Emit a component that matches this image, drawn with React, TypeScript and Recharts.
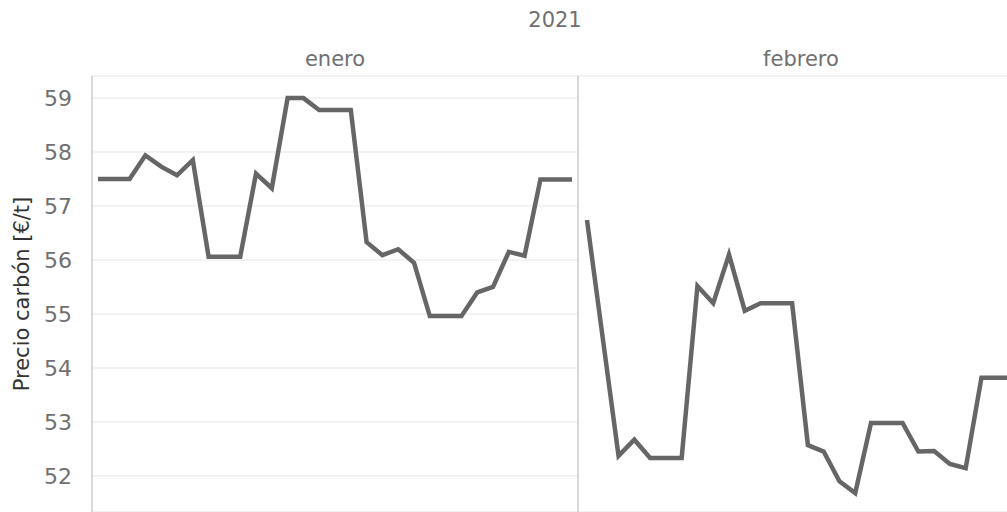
import { LineChart, Line, XAxis, YAxis, CartesianGrid } from 'recharts'

const diasEnero = [1, 2, 3, 4, 5, 6, 7, 8, 9, 10, 11, 12, 13, 14, 15, 16, 17, 18, 19, 20, 21, 22, 23, 24, 25, 26, 27, 28, 29, 30, 31]
const precioEnero = [57.5, 57.5, 57.5, 57.94, 57.73, 57.57, 57.85, 56.06, 56.06, 56.06, 57.6, 57.33, 59.0, 59.0, 58.78, 58.78, 58.78, 56.33, 56.09, 56.2, 55.95, 54.96, 54.96, 54.96, 55.4, 55.5, 56.15, 56.08, 57.49, 57.49, 57.49]

const diasFebrero = [1, 2, 3, 4, 5, 6, 7, 8, 9, 10, 11, 12, 13, 14, 15, 16, 17, 18, 19, 20, 21, 22, 23, 24, 25, 26, 27, 28]
const precioFebrero = [56.74, 54.55, 52.37, 52.67, 52.33, 52.33, 52.33, 55.52, 55.2, 56.1, 55.06, 55.2, 55.2, 55.2, 52.57, 52.45, 51.9, 51.68, 52.98, 52.98, 52.98, 52.45, 52.46, 52.22, 52.14, 53.82, 53.82, 53.82]

const yTicks = [52, 53, 54, 55, 56, 57, 58, 59]
const Y_DOMAIN: [number, number] = [51.33, 59.41]

const FONT = '"DejaVu Sans", "Noto Sans", sans-serif'
const BORDER = '#cccccc'
const GRID = '#efefef'
const LINE = '#666666'

const eneroData = diasEnero.map((d, i) => ({ dia: d, precio: precioEnero[i] }))
const febreroData = diasFebrero.map((d, i) => ({ dia: d, precio: precioFebrero[i] }))

function Header({ text, cx, cy }: { text: string; cx: number; cy: number }) {
  return (
    <div
      style={{
        position: 'absolute',
        left: cx - 100,
        top: cy - 15,
        width: 200,
        height: 30,
        lineHeight: '30px',
        textAlign: 'center',
        fontSize: 21,
        color: '#707070',
      }}
    >
      {text}
    </div>
  )
}

export default function App() {
  return (
    <div
      style={{
        position: 'absolute',
        left: 0,
        top: 0,
        width: 1007,
        height: 512,
        overflow: 'hidden',
        background: '#fff',
        fontFamily: FONT,
      }}
    >
      <Header text="2021" cx={555} cy={20} />
      <Header text="enero" cx={335} cy={59} />
      <Header text="febrero" cx={801} cy={59} />

      {/* enero pane with the y axis */}
      <div style={{ position: 'absolute', left: 0, top: 0 }}>
        <LineChart width={578} height={512} data={eneroData} margin={{ top: 76, right: 0, bottom: 0, left: 0 }}>
          <CartesianGrid vertical={false} stroke={GRID} strokeWidth={1.5} />
          <XAxis
            dataKey="dia"
            type="number"
            domain={[0.62, 31.38]}
            orientation="top"
            height={0}
            tick={false}
            tickLine={false}
            axisLine={{ stroke: BORDER, strokeWidth: 1.5 }}
            allowDataOverflow
          />
          <YAxis
            domain={Y_DOMAIN}
            ticks={yTicks}
            allowDataOverflow
            width={92}
            tickLine={false}
            tickMargin={14}
            axisLine={{ stroke: BORDER, strokeWidth: 1.5 }}
            tick={{ fill: '#707070', fontSize: 22, fontFamily: FONT }}
            label={{
              value: 'Precio carbón [€/t]',
              angle: -90,
              position: 'insideLeft',
              dx: 17,
              dy: 0,
              style: { fill: '#333', fontSize: 21, fontFamily: FONT, textAnchor: 'middle' },
            }}
          />
          <Line
            type="linear"
            dataKey="precio"
            stroke={LINE}
            strokeWidth={4.5}
            dot={false}
            isAnimationActive={false}
          />
        </LineChart>
      </div>

      {/* febrero pane, its y axis line is the pane separator */}
      <div style={{ position: 'absolute', left: 570, top: 0 }}>
        <LineChart width={452} height={512} data={febreroData} margin={{ top: 76, right: 0, bottom: 0, left: 0 }}>
          <CartesianGrid vertical={false} stroke={GRID} strokeWidth={1.5} />
          <XAxis
            dataKey="dia"
            type="number"
            domain={[0.43, 28.57]}
            orientation="top"
            height={0}
            tick={false}
            tickLine={false}
            axisLine={{ stroke: BORDER, strokeWidth: 1.5 }}
            allowDataOverflow
          />
          <YAxis
            domain={Y_DOMAIN}
            ticks={yTicks}
            allowDataOverflow
            width={8}
            tick={false}
            tickLine={false}
            axisLine={{ stroke: BORDER, strokeWidth: 1.5 }}
          />
          <Line
            type="linear"
            dataKey="precio"
            stroke={LINE}
            strokeWidth={4.5}
            dot={false}
            isAnimationActive={false}
          />
        </LineChart>
      </div>
    </div>
  )
}
